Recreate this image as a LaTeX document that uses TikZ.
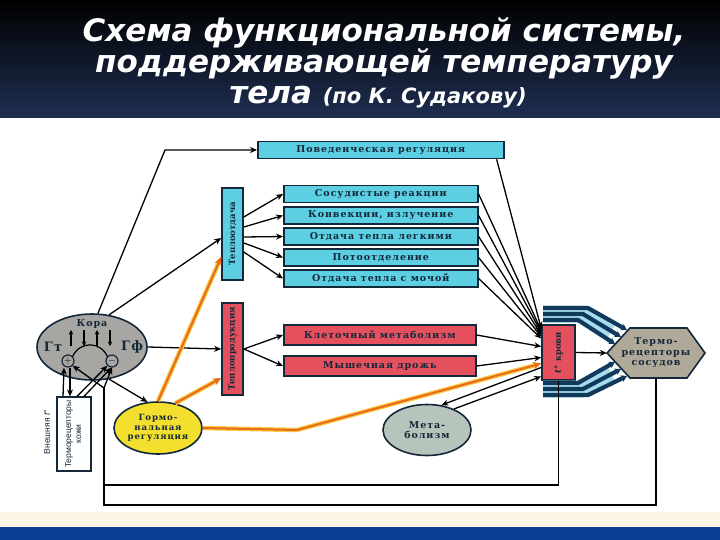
\documentclass[tikz,border=0pt]{standalone}
\usepackage{fontspec}
\usepackage{graphicx}
\setmainfont{Liberation Serif}
\newfontfamily\titlefont{DejaVu Sans}
\newfontfamily\boxfont{DejaVu Serif}[LetterSpace=10]
\newfontfamily\vfont{DejaVu Serif}
\newfontfamily\skinfont{Liberation Sans}
\usetikzlibrary{arrows.meta,shapes.geometric,calc}
\definecolor{cyanf}{HTML}{5CCFE3}
\definecolor{boxline}{HTML}{14283A}
\definecolor{redf}{HTML}{E4505E}
\definecolor{txt}{HTML}{152838}
\definecolor{hdr}{HTML}{1F2F52}
\definecolor{yellowf}{HTML}{F3E02E}
\definecolor{brainf}{HTML}{A8A6A2}
\definecolor{metf}{HTML}{B6C4BC}
\definecolor{hexf}{HTML}{B0A999}
\definecolor{vesselD}{HTML}{103A5C}
\definecolor{vesselL}{HTML}{A8DCEC}
\definecolor{orangeL}{HTML}{E86A1A}
\definecolor{glow}{HTML}{F7C840}
\definecolor{footblue}{HTML}{0B3C96}
\definecolor{cream}{HTML}{FBF6E4}
\begin{document}
\begin{tikzpicture}[x=1pt,y=-1pt,
  lab/.style={font=\boxfont\bfseries\fontsize{9.5}{10.5}\selectfont, text=txt},
  vlab/.style={font=\vfont\bfseries\fontsize{8.5}{9}\selectfont, text=txt},
  cyanbox/.style={lab, draw=boxline, line width=1.6pt, fill=cyanf, inner sep=0pt, minimum height=17},
  redbox/.style={lab, draw=boxline, line width=1.6pt, fill=redf, inner sep=0pt, minimum height=20},
  blob/.style={lab, ellipse, draw=boxline, line width=1.6pt, inner sep=0pt, align=center},
  conn/.style={draw=black, line width=1.3pt, -{Stealth[length=7pt,width=6pt]}},
  small/.style={draw=black, line width=1.6pt, -{Stealth[length=4.5pt,width=4.5pt]}},
  plain/.style={draw=black, line width=1.2pt},
  orng/.style={draw=orangeL, line width=2pt, preaction={draw=glow, line width=4.5pt}, -{Stealth[length=8pt,width=7pt]}},
  vessel/.style={draw=vesselD, line width=4.2pt, line join=round, -{Stealth[length=6pt,width=7pt]}},
  vband/.style={draw=vesselL, line width=17pt, line join=round},
  ttl/.style={font=\titlefont\bfseries\itshape\fontsize{31}{33}\selectfont, text=white, anchor=base, inner sep=0pt}
]
\useasboundingbox (0,0) rectangle (720,540);
\fill[white] (0,0) rectangle (720,540);
\shade[top color=black, bottom color=hdr] (0,0) rectangle (720,118);
\fill[cream] (0,512) rectangle (720,527);
\fill[footblue] (0,527) rectangle (720,540);

% title
\node[ttl] (t1) at (384,42) {Схема функциональной системы,};
\node[ttl] (t2) at (384,73) {поддерживающей температуру};
\node[ttl] (t3) at (378,104) {тела {\fontsize{21}{23}\selectfont (по К. Судакову)}};

% boxes
\node[cyanbox, minimum width=246, anchor=west] (beh) at (257,150) {Поведенческая регуляция};
\node[cyanbox, vlab, minimum width=21, minimum height=92] (heat) at (232.5,234) {\rotatebox{90}{Теплоотдача}};
\node[cyanbox, minimum width=194, anchor=west] (c1) at (283,194) {Сосудистые реакции};
\node[cyanbox, minimum width=194, anchor=west] (c2) at (283,215.5) {Конвекции, излучение};
\node[cyanbox, minimum width=194, anchor=west] (c3) at (283,236.5) {Отдача тепла легкими};
\node[cyanbox, minimum width=194, anchor=west] (c4) at (283,257.5) {Потоотделение};
\node[cyanbox, minimum width=194, anchor=west] (c5) at (283,278.5) {Отдача тепла с мочой};
\node[redbox, vlab, minimum width=21, minimum height=92] (prod) at (232.5,349) {\rotatebox{90}{Теплопродукция}};
\node[redbox, minimum width=192, anchor=west] (r1) at (283,335) {Клеточный метаболизм};
\node[redbox, minimum width=192, anchor=west] (r2) at (283,366) {Мышечная дрожь};
\node[redbox, vlab, minimum width=33, minimum height=55] (tk) at (558.5,352.5) {\rotatebox{90}{\textit{t}° крови}};

% hexagon
\coordinate (h1) at (607,353);
\coordinate (h2) at (630,328);
\coordinate (h3) at (687,328);
\coordinate (h4) at (705,353);
\coordinate (h5) at (687,378);
\coordinate (h6) at (630,378);
\filldraw[fill=hexf, draw=boxline, line width=1.6pt] (h1) -- (h2) -- (h3) -- (h4) -- (h5) -- (h6) -- cycle;
\node[lab, align=center, minimum width=98, minimum height=50, inner sep=0pt] (hex) at (656,353) {Термо-\\рецепторы\\сосудов};

% brain
\node[blob, fill=brainf, minimum width=110, minimum height=66] (brain) at (92,347) {};
\node[lab, font=\boxfont\bfseries\fontsize{9.5}{10}\selectfont] (kora) at (92,324) {Кора};
\node[lab, font=\boxfont\bfseries\fontsize{13}{14}\selectfont] (gt) at (53,347) {Гт};
\node[lab, font=\boxfont\bfseries\fontsize{13}{14}\selectfont] (gf) at (132,347) {Гф};
\node[circle, draw=boxline, line width=1.2pt, fill=brainf, minimum size=12, inner sep=0pt, font=\bfseries] (plus) at (68,361) {$+$};
\node[circle, draw=boxline, line width=1.2pt, fill=brainf, minimum size=12, inner sep=0pt, font=\bfseries] (minus) at (112,361) {$-$};
\draw[plain] (plus.north east) .. controls (80,341) and (100,341) .. (minus.north west);
\draw[small] (71,346) -- (71,330);
\draw[small] (84,330) -- (84,346);
\draw[small] (97,346) -- (97,330);
\draw[small] (110,330) -- (110,346);

% ellipses
\node[blob, fill=yellowf, minimum width=88, minimum height=52, font=\boxfont\bfseries\fontsize{8.6}{9.8}\selectfont] (horm) at (158,428) {Гормо-\\нальная\\регуляция};
\node[blob, fill=metf, minimum width=88, minimum height=51] (met) at (427,430) {Мета-\\болизм};

% skin receptors
\node[draw=boxline, line width=1.2pt, fill=white, minimum width=34, minimum height=74, inner sep=0pt,
      font=\skinfont\fontsize{8.5}{10}\selectfont, text=txt] (skin) at (74,434)
      {\rotatebox{90}{\begin{tabular}{@{}c@{}}Терморецепторы\\кожи\end{tabular}}};
\node[font=\skinfont\fontsize{8.5}{10}\selectfont, text=txt, inner sep=0pt] (ext) at (47,432) {\rotatebox{90}{Внешняя \textit{t}°}};

% connectors from brain
\coordinate (k1) at (165,150);
\draw[conn] (brain.80) -- (k1) -- (beh.west);
\draw[conn] (brain.62) -- ($(heat.west)+(0,4)$);
\draw[conn] (brain.east) -- (prod.west);
\draw[conn] (brain.-62) -- (horm.112);

% fan from heat loss
\draw[conn] ($(heat.east)+(0,-17)$) -- (c1.west);
\draw[conn] ($(heat.east)+(0,-7)$) -- (c2.west);
\draw[conn] ($(heat.east)+(0,3)$) -- (c3.west);
\draw[conn] ($(heat.east)+(0,9)$) -- (c4.west);
\draw[conn] ($(heat.east)+(0,18)$) -- (c5.west);
\draw[conn] (prod.east) -- (r1.west);
\draw[conn] (prod.east) -- (r2.west);

% into blood temperature
\draw[conn] ($(beh.south east)+(-8,0)$) -- ($(tk.west)+(0,-24)$);
\draw[conn] (c1.east) -- ($(tk.west)+(0,-22)$);
\draw[conn] (c2.east) -- ($(tk.west)+(0,-20)$);
\draw[conn] (c3.east) -- ($(tk.west)+(0,-18)$);
\draw[conn] (c4.east) -- ($(tk.west)+(0,-16)$);
\draw[conn] (c5.east) -- ($(tk.west)+(0,-14)$);
\draw[conn] (r1.east) -- ($(tk.west)+(0,-6)$);
\draw[conn] (r2.east) -- ($(tk.west)+(0,5)$);
\draw[conn] ($(tk.west)+(0,15)$) -- (met.60);
\draw[conn] (met.38) -- ($(tk.west)+(0,24)$);
\draw[conn] (tk.east) -- (hex.west);

% hormonal (orange)
\coordinate (o1) at (297,430);
\draw[orng] (horm.north) -- ($(heat.west)+(0,23)$);
\draw[orng] (horm.55) -- ($(prod.west)+(0,29)$);
\draw[orng] (horm.east) -- (o1) -- ($(tk.west)+(0,11)$);

% vessels
\coordinate (v1a) at (543,308); \coordinate (v1b) at (588,308); \coordinate (v1c) at (627,330);
\coordinate (v2a) at (543,314); \coordinate (v2b) at (583,314); \coordinate (v2c) at (621,337);
\coordinate (v3a) at (543,320); \coordinate (v3b) at (578,320); \coordinate (v3c) at (615,344);
\coordinate (w1a) at (543,383); \coordinate (w1b) at (578,383); \coordinate (w1c) at (615,362);
\coordinate (w2a) at (543,389); \coordinate (w2b) at (583,389); \coordinate (w2c) at (621,369);
\coordinate (w3a) at (543,395); \coordinate (w3b) at (588,395); \coordinate (w3c) at (627,376);
\draw[vband] (v2a) -- (v2b) -- ($(v2b)!0.75!(v2c)$);
\draw[vband] (w2a) -- (w2b) -- ($(w2b)!0.75!(w2c)$);
\draw[vessel] (v1a) -- (v1b) -- (v1c);
\draw[vessel] (v2a) -- (v2b) -- (v2c);
\draw[vessel] (v3a) -- (v3b) -- (v3c);
\draw[vessel] (w1a) -- (w1b) -- (w1c);
\draw[vessel] (w2a) -- (w2b) -- (w2c);
\draw[vessel] (w3a) -- (w3b) -- (w3c);

% feedback loops
\coordinate (fb1) at (104,485);
\coordinate (fb2) at (104,505);
\coordinate (fbt) at (104,388);
\draw[plain] (tk.south) |- (fb1);
\draw[plain] (hex.south) |- (fb2) -- (fbt);
\draw[conn] (fbt) -- (plus.south east);
\draw[conn] (fbt) -- (minus.south);

% skin receptors links
\draw[conn] ($(skin.north)+(-11,0)$) -- ($(plus.south)+(-4,0)$);
\draw[conn] ($(plus.south)+(2,0)$) -- ($(skin.north)+(-4,0)$);
\draw[conn] ($(skin.north)+(3,0)$) -- (minus.south west);
\draw[conn] ($(skin.north)+(10,0)$) -- ($(minus.south west)+(4,2)$);
\end{tikzpicture}
\end{document}
